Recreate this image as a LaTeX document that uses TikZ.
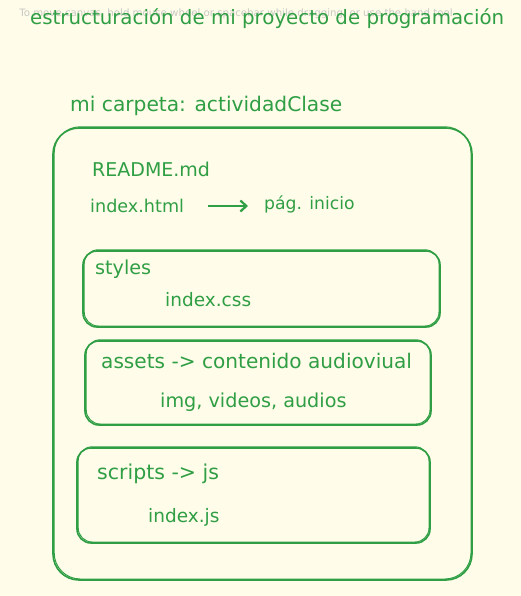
\documentclass[tikz,border=0pt]{standalone}
\usepackage{fontspec}
\setmainfont{DejaVu Sans}
\usetikzlibrary{arrows.meta}
\definecolor{paper}{HTML}{FFFDE9}
\definecolor{ink}{HTML}{2F9E44}
\definecolor{hint}{HTML}{C8C8C4}
\tikzset{
  sketch/.style={draw=ink, line width=1.6pt, rounded corners=#1},
  sketch/.default=14pt,
  trace/.style={draw=ink, line width=1pt, rounded corners=#1},
  trace/.default=14pt,
  label/.style={text=ink, anchor=west, inner sep=0pt, font=\fontsize{18.5}{22}\selectfont},
}
\begin{document}
\begin{tikzpicture}[x=1pt,y=-1pt]
  \fill[paper] (0,0) rectangle (521,596);
  \useasboundingbox (0,0) rectangle (521,596);

  % canvas hint
  \node[text=hint, inner sep=0pt, font=\fontsize{10.2}{12}\selectfont] (hint) at (236,14) {To move canvas, hold mouse wheel or spacebar while dragging, or use the hand tool};

  % title
  \node[label, font=\fontsize{19.8}{24}\selectfont] (title) at (30,19) {estructuración de mi proyecto de programación};

  % folder caption
  \node[label, font=\fontsize{20.2}{24}\selectfont] (folder) at (70,106) {mi carpeta: actividadClase};

  % outer folder box, drawn twice for a hand-drawn look
  \draw[sketch=26pt] (53,128) rectangle (472,580);
  \draw[trace=26pt] (54.2,126.8) rectangle (471,579);

  % root files
  \node[label, font=\fontsize{19}{22}\selectfont] (readme) at (92,169) {README.md};
  \node[label, font=\fontsize{17.6}{20}\selectfont] (html) at (90,206) {index.html};
  \node[label, font=\fontsize{17.2}{20}\selectfont] (pag) at (264,204) {pág. inicio};
  \draw[ink, line width=2.2pt, -{Straight Barb[length=6pt,width=11pt]}, shorten <=24pt, shorten >=16pt] (html.east) -- (pag.west |- html.east);

  % styles folder
  \draw[sketch] (83,251) rectangle (440,327);
  \draw[trace] (84.2,249.8) rectangle (439,326);
  \node[label, font=\fontsize{19.2}{22}\selectfont] (styles) at (95,269) {styles};
  \node[label] (css) at (165,300) {index.css};

  % assets folder
  \draw[sketch] (85,341) rectangle (431,425);
  \draw[trace] (86.2,339.8) rectangle (430,424);
  \node[label, font=\fontsize{20.1}{22}\selectfont] (assets) at (101,361) {assets -> contenido audioviual};
  \node[label, font=\fontsize{19.2}{22}\selectfont] (media) at (160,402) {img, videos, audios};

  % scripts folder
  \draw[sketch] (77,448) rectangle (430,543);
  \draw[trace] (78.2,446.8) rectangle (429,542);
  \node[label, font=\fontsize{20.5}{22}\selectfont] (scripts) at (97,474) {scripts -> js};
  \node[label] (js) at (148,517) {index.js};
\end{tikzpicture}
\end{document}
